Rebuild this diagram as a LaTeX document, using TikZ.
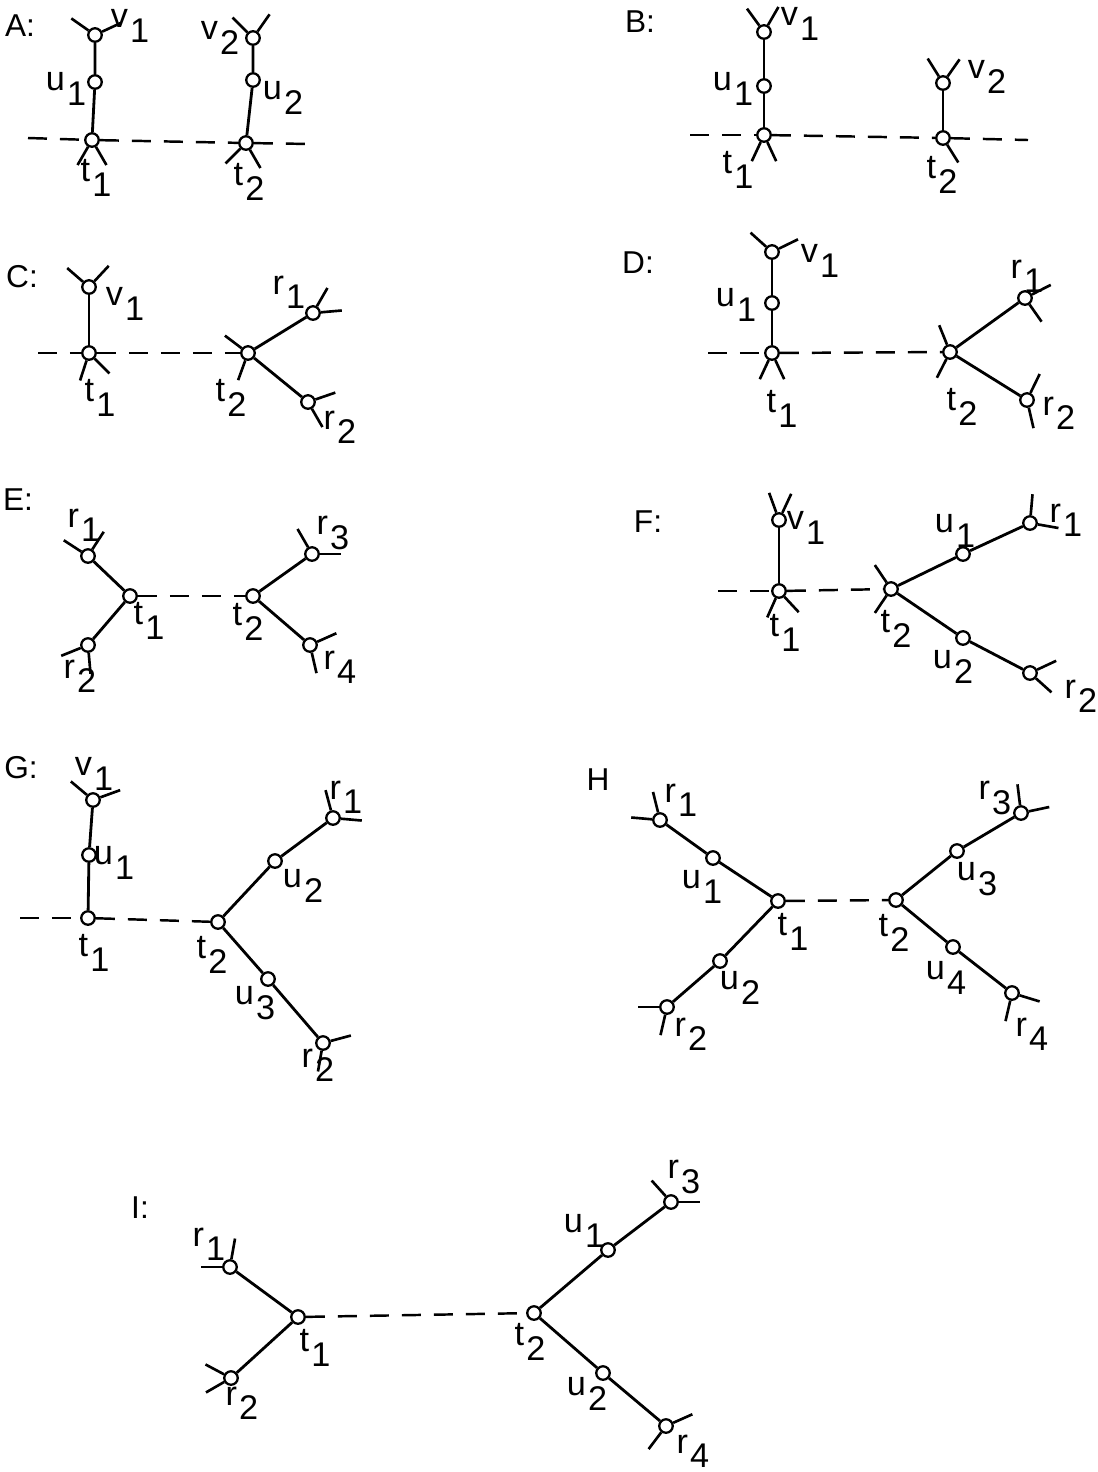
\documentclass[tikz,border=0pt]{standalone}
\usepackage{fontspec}
\setmainfont{Liberation Sans}
\usetikzlibrary{calc}
\newcommand{\lab}[2]{#1\hspace{0.06em}\raisebox{-0.42em}{#2}}
\newcommand{\stubs}[2]{\foreach \a in {#2} \draw[hedge] (#1.\a) -- ++(\a:0.42cm);}

\begin{document}
\begin{tikzpicture}[
    x=0.02cm, y=-0.02cm,
    vtx/.style={draw, circle, fill=white, minimum size=0.27cm, inner sep=0pt, line width=1.3pt},
    arm/.style={line width=1.6pt},
    link/.style={line width=1.4pt, dash pattern=on 0.38cm off 0.26cm},
    hedge/.style={line width=1.5pt},
    lbl/.style={font=\fontsize{19.5}{22}\selectfont, inner sep=0pt},
    panel/.style={font=\fontsize{18}{21}\selectfont, inner sep=0pt},
]
\useasboundingbox (0,0) rectangle (1098,1472);

% === A ===
\node[panel] (A-name) at (20,26) {A:};
\node[vtx] (A-v1) at (95,35) {};
\node[vtx] (A-u1) at (95,82) {};
\node[vtx] (A-t1) at (92,140) {};
\node[vtx] (A-v2) at (253,38) {};
\node[vtx] (A-u2) at (253,80) {};
\node[vtx] (A-t2) at (246,143) {};
\coordinate (A-l) at (28,138);
\coordinate (A-r) at (312,144);
\draw[arm] (A-v1) -- (A-u1) -- (A-t1);
\draw[arm] (A-v2) -- (A-u2) -- (A-t2);
\draw[link] (A-l) -- (A-t1);
\draw[link] (A-t1) -- (A-t2);
\draw[link] (A-t2) -- (A-r);
\stubs{A-v1}{145,25}
\stubs{A-t1}{-120,-60}
\stubs{A-v2}{135,55}
\stubs{A-t2}{-135,-60}
\node[lbl] (A-v1-l) at (130,26) {\lab{v}{1}};
\node[lbl] (A-u1-l) at (66,89) {\lab{u}{1}};
\node[lbl] (A-t1-l) at (96,178) {\lab{t}{1}};
\node[lbl] (A-v2-l) at (220,38) {\lab{v}{2}};
\node[lbl] (A-u2-l) at (283,98) {\lab{u}{2}};
\node[lbl] (A-t2-l) at (249,182) {\lab{t}{2}};

% === B ===
\node[panel] (B-name) at (640,22) {B:};
\node[vtx] (B-v1) at (764,32) {};
\node[vtx] (B-u1) at (764,86) {};
\node[vtx] (B-t1) at (764,135) {};
\node[vtx] (B-v2) at (943,83) {};
\node[vtx] (B-t2) at (943,138) {};
\coordinate (B-l) at (690,135);
\coordinate (B-r) at (1028,140);
\draw[arm] (B-v1) -- (B-u1) -- (B-t1);
\draw[arm] (B-v2) -- (B-t2);
\draw[link] (B-l) -- (B-t1);
\draw[link] (B-t1) -- (B-t2);
\draw[link] (B-t2) -- (B-r);
\stubs{B-v1}{126,60}
\stubs{B-t1}{-115,-65}
\stubs{B-v2}{122,55}
\stubs{B-t2}{-58}
\node[lbl] (B-v1-l) at (800,24) {\lab{v}{1}};
\node[lbl] (B-u1-l) at (733,89) {\lab{u}{1}};
\node[lbl] (B-t1-l) at (738,170) {\lab{t}{1}};
\node[lbl] (B-v2-l) at (987,77) {\lab{v}{2}};
\node[lbl] (B-t2-l) at (942,175) {\lab{t}{2}};

% === C ===
\node[panel] (C-name) at (22,277) {C:};
\node[vtx] (C-v1) at (89,287) {};
\node[vtx] (C-t1) at (89,353) {};
\node[vtx] (C-t2) at (248,353) {};
\node[vtx] (C-r1) at (313,313) {};
\node[vtx] (C-r2) at (308,402) {};
\coordinate (C-l) at (38,353);
\draw[arm] (C-v1) -- (C-t1);
\draw[arm] (C-t2) -- (C-r1);
\draw[arm] (C-t2) -- (C-r2);
\draw[link] (C-l) -- (C-t1);
\draw[link] (C-t1) -- (C-t2);
\stubs{C-v1}{139,47}
\stubs{C-t1}{-108,-45}
\stubs{C-t2}{143,-110}
\stubs{C-r1}{60,5}
\stubs{C-r2}{19,-60}
\node[lbl] (C-v1-l) at (125,304) {\lab{v}{1}};
\node[lbl] (C-t1-l) at (100,398) {\lab{t}{1}};
\node[lbl] (C-t2-l) at (231,398) {\lab{t}{2}};
\node[lbl] (C-r1-l) at (289,292) {\lab{r}{1}};
\node[lbl] (C-r2-l) at (340,427) {\lab{r}{2}};

% === D ===
\node[panel] (D-name) at (638,263) {D:};
\node[vtx] (D-v1) at (772,252) {};
\node[vtx] (D-u1) at (772,303) {};
\node[vtx] (D-t1) at (772,353) {};
\node[vtx] (D-t2) at (950,352) {};
\node[vtx] (D-r1) at (1025,298) {};
\node[vtx] (D-r2) at (1027,400) {};
\coordinate (D-l) at (708,353);
\draw[arm] (D-v1) -- (D-u1) -- (D-t1);
\draw[arm] (D-t2) -- (D-r1);
\draw[arm] (D-t2) -- (D-r2);
\draw[link] (D-l) -- (D-t1);
\draw[link] (D-t1) -- (D-t2);
\stubs{D-v1}{138,26}
\stubs{D-t1}{-115,-65}
\stubs{D-t2}{112,-117}
\stubs{D-r1}{27,-55}
\stubs{D-r2}{64,-77}
\node[lbl] (D-v1-l) at (820,261) {\lab{v}{1}};
\node[lbl] (D-u1-l) at (736,305) {\lab{u}{1}};
\node[lbl] (D-t1-l) at (782,409) {\lab{t}{1}};
\node[lbl] (D-t2-l) at (962,407) {\lab{t}{2}};
\node[lbl] (D-r1-l) at (1027,276) {\lab{r}{1}};
\node[lbl] (D-r2-l) at (1059,413) {\lab{r}{2}};

% === E ===
\node[panel] (E-name) at (18,500) {E:};
\node[vtx] (E-r1) at (88,556) {};
\node[vtx] (E-r2) at (88,645) {};
\node[vtx] (E-t1) at (130,596) {};
\node[vtx] (E-t2) at (253,596) {};
\node[vtx] (E-r3) at (312,554) {};
\node[vtx] (E-r4) at (310,645) {};
\draw[arm] (E-r1) -- (E-t1);
\draw[arm] (E-r2) -- (E-t1);
\draw[link] (E-t1) -- (E-t2);
\draw[arm] (E-t2) -- (E-r3);
\draw[arm] (E-t2) -- (E-r4);
\stubs{E-r1}{147,57}
\stubs{E-r2}{-158,-85}
\stubs{E-r3}{120,0}
\stubs{E-r4}{24,-77}
\node[lbl] (E-r1-l) at (84,525) {\lab{r}{1}};
\node[lbl] (E-r2-l) at (80,676) {\lab{r}{2}};
\node[lbl] (E-t1-l) at (149,621) {\lab{t}{1}};
\node[lbl] (E-t2-l) at (248,622) {\lab{t}{2}};
\node[lbl] (E-r3-l) at (333,533) {\lab{r}{3}};
\node[lbl] (E-r4-l) at (340,667) {\lab{r}{4}};

% === F ===
\node[panel] (F-name) at (648,522) {F:};
\node[vtx] (F-v1) at (779,520) {};
\node[vtx] (F-t1) at (779,591) {};
\node[vtx] (F-t2) at (891,589) {};
\node[vtx] (F-u1) at (963,554) {};
\node[vtx] (F-r1) at (1030,523) {};
\node[vtx] (F-u2) at (963,638) {};
\node[vtx] (F-r2) at (1030,673) {};
\coordinate (F-l) at (718,591);
\draw[arm] (F-v1) -- (F-t1);
\draw[link] (F-l) -- (F-t1);
\draw[link] (F-t1) -- (F-t2);
\draw[arm] (F-t2) -- (F-u1) -- (F-r1);
\draw[arm] (F-t2) -- (F-u2) -- (F-r2);
\stubs{F-v1}{110,65}
\stubs{F-t1}{-114,-47}
\stubs{F-t2}{124,-124}
\stubs{F-r1}{85,-10}
\stubs{F-r2}{25,-42}
\node[lbl] (F-v1-l) at (806,528) {\lab{v}{1}};
\node[lbl] (F-t1-l) at (785,633) {\lab{t}{1}};
\node[lbl] (F-t2-l) at (896,629) {\lab{t}{2}};
\node[lbl] (F-u1-l) at (955,531) {\lab{u}{1}};
\node[lbl] (F-u2-l) at (953,667) {\lab{u}{2}};
\node[lbl] (F-r1-l) at (1066,520) {\lab{r}{1}};
\node[lbl] (F-r2-l) at (1081,696) {\lab{r}{2}};

% === G ===
\node[panel] (G-name) at (21,768) {G:};
\node[vtx] (G-v1) at (93,800) {};
\node[vtx] (G-u1) at (89,855) {};
\node[vtx] (G-t1) at (88,918) {};
\node[vtx] (G-t2) at (218,922) {};
\node[vtx] (G-u2) at (275,861) {};
\node[vtx] (G-r1) at (333,818) {};
\node[vtx] (G-u3) at (268,979) {};
\node[vtx] (G-r2) at (323,1043) {};
\coordinate (G-l) at (20,918);
\draw[arm] (G-v1) -- (G-u1) -- (G-t1);
\draw[link] (G-l) -- (G-t1);
\draw[link] (G-t1) -- (G-t2);
\draw[arm] (G-t2) -- (G-u2) -- (G-r1);
\draw[arm] (G-t2) -- (G-u3) -- (G-r2);
\stubs{G-v1}{140,20}
\stubs{G-r1}{105,-5}
\stubs{G-r2}{15,-100}
\node[lbl] (G-v1-l) at (94,774) {\lab{v}{1}};
\node[lbl] (G-u1-l) at (114,863) {\lab{u}{1}};
\node[lbl] (G-t1-l) at (94,953) {\lab{t}{1}};
\node[lbl] (G-t2-l) at (212,955) {\lab{t}{2}};
\node[lbl] (G-u2-l) at (303,886) {\lab{u}{2}};
\node[lbl] (G-u3-l) at (255,1003) {\lab{u}{3}};
\node[lbl] (G-r1-l) at (346,797) {\lab{r}{1}};
\node[lbl] (G-r2-l) at (318,1065) {\lab{r}{2}};

% === H ===
\node[panel] (H-name) at (598,780) {H};
\node[vtx] (H-r1) at (660,820) {};
\node[vtx] (H-u1) at (713,858) {};
\node[vtx] (H-t1) at (778,901) {};
\node[vtx] (H-u2) at (720,961) {};
\node[vtx] (H-r2) at (667,1007) {};
\node[vtx] (H-t2) at (896,900) {};
\node[vtx] (H-u3) at (957,851) {};
\node[vtx] (H-r3) at (1021,813) {};
\node[vtx] (H-u4) at (953,947) {};
\node[vtx] (H-r4) at (1012,993) {};
\draw[arm] (H-r1) -- (H-u1) -- (H-t1);
\draw[arm] (H-r2) -- (H-u2) -- (H-t1);
\draw[link] (H-t1) -- (H-t2);
\draw[arm] (H-t2) -- (H-u3) -- (H-r3);
\draw[arm] (H-t2) -- (H-u4) -- (H-r4);
\stubs{H-r1}{175,104}
\stubs{H-r2}{180,-103}
\stubs{H-r3}{97,12}
\stubs{H-r4}{-17,-103}
\node[lbl] (H-r1-l) at (681,800) {\lab{r}{1}};
\node[lbl] (H-u1-l) at (702,887) {\lab{u}{1}};
\node[lbl] (H-t1-l) at (793,932) {\lab{t}{1}};
\node[lbl] (H-u2-l) at (740,988) {\lab{u}{2}};
\node[lbl] (H-r2-l) at (691,1034) {\lab{r}{2}};
\node[lbl] (H-t2-l) at (894,933) {\lab{t}{2}};
\node[lbl] (H-u3-l) at (977,879) {\lab{u}{3}};
\node[lbl] (H-u4-l) at (946,978) {\lab{u}{4}};
\node[lbl] (H-r3-l) at (995,798) {\lab{r}{3}};
\node[lbl] (H-r4-l) at (1032,1034) {\lab{r}{4}};

% === I ===
\node[panel] (I-name) at (140,1208) {I:};
\node[vtx] (I-r1) at (230,1267) {};
\node[vtx] (I-t1) at (298,1317) {};
\node[vtx] (I-r2) at (231,1378) {};
\node[vtx] (I-t2) at (534,1313) {};
\node[vtx] (I-u1) at (608,1250) {};
\node[vtx] (I-r3) at (671,1202) {};
\node[vtx] (I-u2) at (603,1373) {};
\node[vtx] (I-r4) at (666,1426) {};
\draw[arm] (I-r1) -- (I-t1);
\draw[arm] (I-r2) -- (I-t1);
\draw[link] (I-t1) -- (I-t2);
\draw[arm] (I-t2) -- (I-u1) -- (I-r3);
\draw[arm] (I-t2) -- (I-u2) -- (I-r4);
\stubs{I-r1}{180,80}
\stubs{I-r2}{152,-150}
\stubs{I-r3}{132,0}
\stubs{I-r4}{24,-127}
\node[lbl] (I-r1-l) at (209,1244) {\lab{r}{1}};
\node[lbl] (I-r2-l) at (242,1403) {\lab{r}{2}};
\node[lbl] (I-t1-l) at (315,1348) {\lab{t}{1}};
\node[lbl] (I-t2-l) at (530,1342) {\lab{t}{2}};
\node[lbl] (I-u1-l) at (584,1231) {\lab{u}{1}};
\node[lbl] (I-u2-l) at (587,1394) {\lab{u}{2}};
\node[lbl] (I-r3-l) at (684,1177) {\lab{r}{3}};
\node[lbl] (I-r4-l) at (693,1451) {\lab{r}{4}};

\end{tikzpicture}
\end{document}
